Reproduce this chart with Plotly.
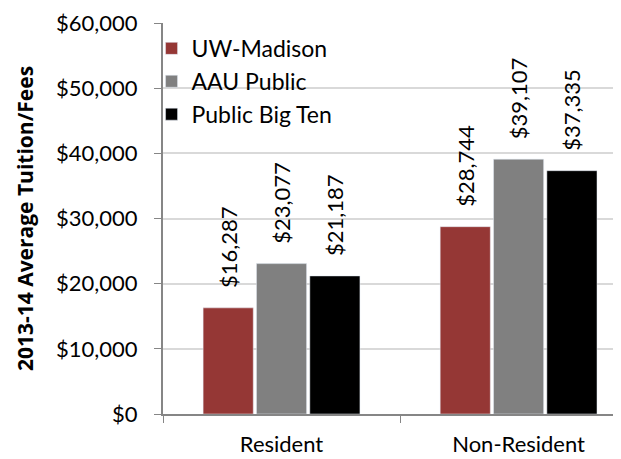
import plotly.graph_objects as go

categories = ['Resident', 'Non-Resident']
series_names = ['UW-Madison', 'AAU Public', 'Public Big Ten']
uw_madison = [16287, 28744]
aau_public = [23077, 39107]
big_ten = [21187, 37335]
colors = ['#953735', '#808080', '#000000']

font_family = 'Lato, Open Sans, sans-serif'
nb = '\u00a0'

fig = go.Figure()
for name, vals, col in zip(series_names, [uw_madison, aau_public, big_ten], colors):
    fig.add_trace(go.Bar(
        x=categories, y=vals, name=name, marker_color=col, legendgroup=name,
        text=[nb * 3 + '${:,}'.format(v) for v in vals],
        textposition='outside', textangle=-90, constraintext='none',
        textfont=dict(size=22, color='black', family=font_family),
        cliponaxis=False,
    ))

# page body has an 8px margin, so the figure is a bit smaller than the window
fig.update_layout(
    width=613, height=451,
    margin=dict(l=155, r=0, t=15, b=45, autoexpand=False),
    plot_bgcolor='white', paper_bgcolor='white',
    barmode='group', bargap=0.325, bargroupgap=0.06,
    font=dict(family=font_family, size=22, color='black'),
    showlegend=True,
    legend=dict(x=-0.025, y=0.99, xanchor='left', yanchor='top',
                bgcolor='rgba(0,0,0,0)', font=dict(size=23),
                itemwidth=30, traceorder='normal', tracegroupgap=9),
    xaxis=dict(range=[-0.5, 1.432], showline=True, linecolor='#868686', linewidth=2,
               ticks='outside', tickson='boundaries', ticklen=7, tickcolor='#868686',
               tickfont=dict(size=22), ticklabelstandoff=10, automargin=False),
    yaxis=dict(range=[0, 60000], dtick=10000, tickprefix='$', tickformat=',d',
               showline=True, linecolor='#868686', linewidth=2,
               ticks='outside', ticklen=7, tickcolor='#868686',
               gridcolor='#d9d9d9', gridwidth=1.5, zeroline=False,
               tickfont=dict(size=22), ticklabelstandoff=12, automargin=False,
               title=dict(text='<b>2013-14 Average Tuition/Fees</b>',
                          font=dict(size=21, family='Open Sans'), standoff=17)),
)

fig.write_html('out.html')
